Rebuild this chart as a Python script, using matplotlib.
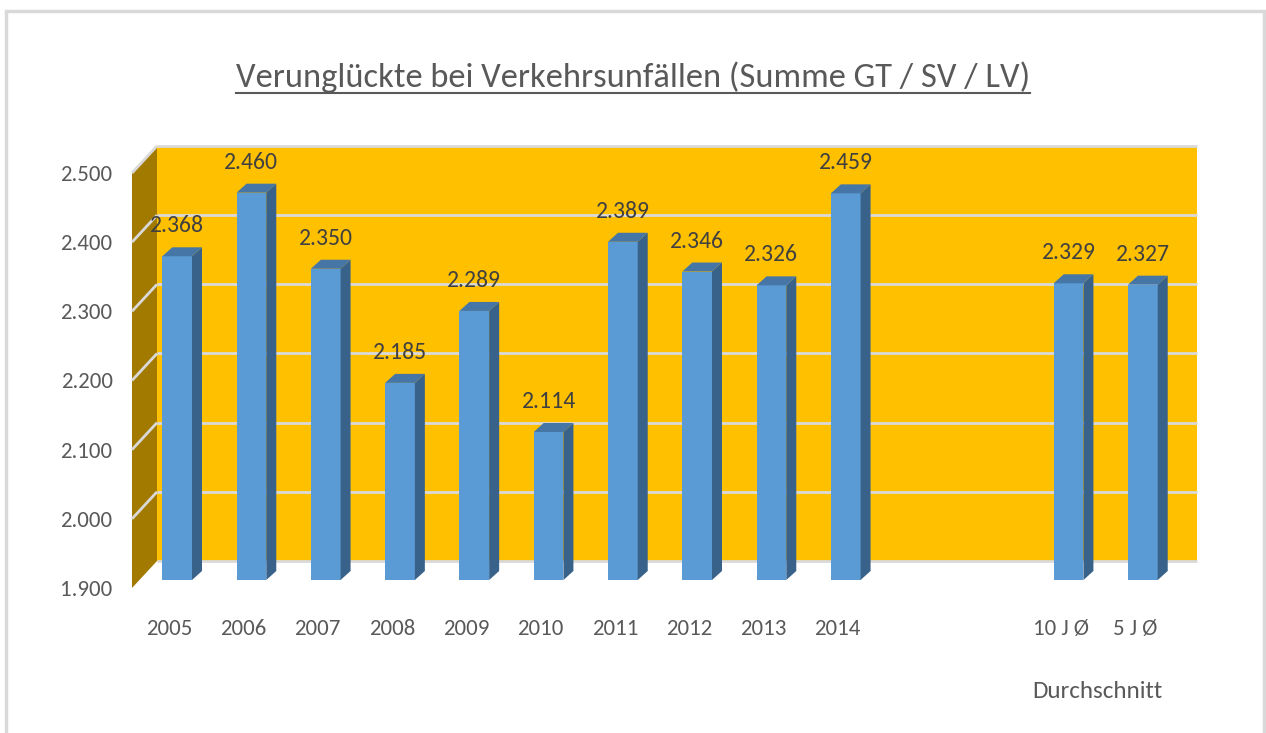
import numpy as np
import matplotlib.pyplot as plt
from matplotlib.patches import Polygon, Rectangle
from matplotlib.lines import Line2D

# data
categories = ['2005', '2006', '2007', '2008', '2009', '2010', '2011', '2012',
              '2013', '2014', '', '', '10 J Ø', '5 J Ø']
values = [2368, 2460, 2350, 2185, 2289, 2114, 2389, 2346, 2326, 2459,
          None, None, 2329, 2327]
y_ticks = [1900, 2000, 2100, 2200, 2300, 2400, 2500]
group_label = 'Durchschnitt'
title = 'Verunglückte bei Verkehrsunfällen (Summe GT / SV / LV)'

plt.rcParams['font.family'] = ['Carlito', 'Liberation Sans', 'DejaVu Sans']

W, H = 1266, 733
fig = plt.figure(figsize=(W / 100, H / 100), dpi=100)
ax_l, ax_b, ax_w, ax_h = 132, 145, 1040, 415
ax = fig.add_axes([ax_l / W, ax_b / H, ax_w / W, ax_h / H])

n = len(categories)
x0, x1 = -0.5, n - 0.5
y0, y1 = y_ticks[0], y_ticks[-1]
ax.set_xlim(x0, x1)
ax.set_ylim(y0, y1)

# pixel -> data helpers
def dx(px):
    return px * (x1 - x0) / ax_w

def dy(px):
    return px * (y1 - y0) / ax_h

wall_col = '#FFC000'
side_wall_col = '#A27A00'
grid_col = '#D9D9D9'
bar_front = '#5B9BD5'
bar_top = '#4576A6'
bar_side = '#38628A'
text_col = '#595959'

# back wall (shifted into depth)
bx, by = dx(25), dy(27)
ax.add_patch(Rectangle((x0 + bx, y0 + by), x1 - x0, y1 - y0, facecolor=wall_col,
                       edgecolor='none', zorder=0, clip_on=False))
for t in y_ticks:
    ax.plot([x0 + bx, x1 + bx], [t + by, t + by], color=grid_col, lw=2,
            zorder=1, clip_on=False, solid_capstyle='butt')

# left side wall
ax.add_patch(Polygon([(x0, y0), (x0, y1), (x0 + bx, y1 + by), (x0 + bx, y0 + by)],
                     closed=True, facecolor=side_wall_col, edgecolor='none',
                     zorder=1, clip_on=False))
for t in y_ticks[1:]:
    ax.plot([x0, x0 + bx], [t, t + by], color=grid_col, lw=2, zorder=2,
            clip_on=False, solid_capstyle='butt')

# bars
xs = np.array([i for i, v in enumerate(values) if v is not None])
vs = np.array([v for v in values if v is not None])
bw = 0.4
ox, oy = dx(8), dy(8)
ddx, ddy = dx(10), dy(9)
ax.bar(xs + ox, vs - y0, bottom=y0 + oy, width=bw, color=bar_front,
       zorder=3, clip_on=False)
for x, v in zip(xs, vs):
    xl = x + ox - bw / 2
    xr = x + ox + bw / 2
    b = y0 + oy
    t = v + oy
    ax.add_patch(Polygon([(xr, b), (xr, t), (xr + ddx, t + ddy), (xr + ddx, b + ddy)],
                         closed=True, facecolor=bar_side, edgecolor='none',
                         zorder=3, clip_on=False))
    ax.add_patch(Polygon([(xl, t), (xr, t), (xr + ddx, t + ddy), (xl + ddx, t + ddy)],
                         closed=True, facecolor=bar_top, edgecolor='none',
                         zorder=3, clip_on=False))
    ax.annotate(f'{v:,}'.replace(',', '.'), xy=(x + ox, t), xytext=(0, 24),
                textcoords='offset pixels', ha='center', va='baseline',
                fontsize=17, color='#404040', zorder=5, annotation_clip=False)

# axes styling
for s in ax.spines.values():
    s.set_visible(False)
ax.patch.set_visible(False)
ax.set_yticks(y_ticks)
ax.set_yticklabels([f'{t:,}'.replace(',', '.') for t in y_ticks])
ax.set_xticks(range(n))
ax.set_xticklabels(categories)
ax.tick_params(axis='y', length=0, pad=14, labelsize=16.5, labelcolor=text_col)
ax.tick_params(axis='x', length=0, pad=22, labelsize=16.5, labelcolor=text_col)

ax.annotate(group_label, xy=(12.5, y0), xytext=(0, -104), textcoords='offset pixels',
            ha='center', va='center', fontsize=18, color=text_col,
            annotation_clip=False)

# title with underline
ttl = fig.text(0.5, 1 - 87 / H, title, ha='center', va='baseline', fontsize=24.8,
               color=text_col)
fig.canvas.draw()
bb = ttl.get_window_extent(fig.canvas.get_renderer())
fig.add_artist(Line2D([bb.x0 / W, bb.x1 / W], [1 - 93 / H, 1 - 93 / H],
                      color=text_col, lw=1.5, transform=fig.transFigure))

# chart frame
fig.add_artist(Rectangle((6 / W, -0.05), 1258 / W, 1.05 - 11 / H, fill=False,
                         edgecolor=grid_col, lw=2.5, transform=fig.transFigure))

fig.savefig('out.png', dpi=100)
